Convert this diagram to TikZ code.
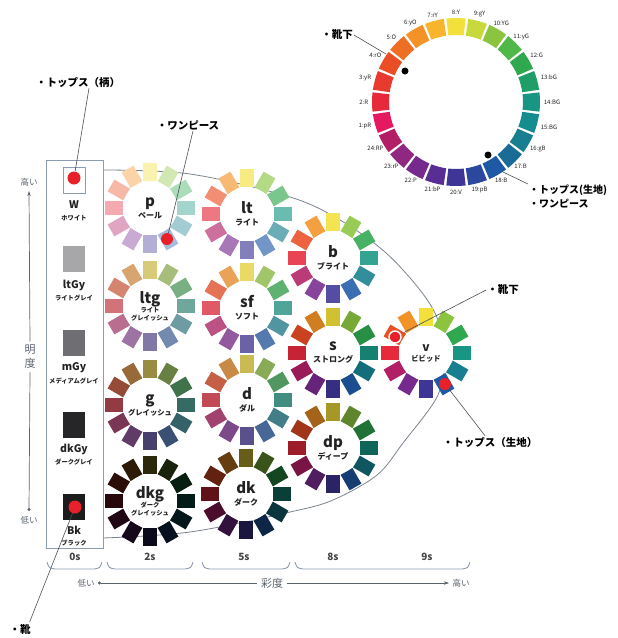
\documentclass[tikz,border=0pt]{standalone}
\usepackage{fontspec}
\setmainfont{Noto Sans CJK JP}
\usetikzlibrary{arrows.meta}

\definecolor{h1}{HTML}{E5195F}
\definecolor{h2}{HTML}{E62A3C}
\definecolor{h3}{HTML}{E83A2E}
\definecolor{h4}{HTML}{EB4E25}
\definecolor{h5}{HTML}{EE6F23}
\definecolor{h6}{HTML}{F39226}
\definecolor{h7}{HTML}{F7B52D}
\definecolor{h8}{HTML}{F3E03A}
\definecolor{h9}{HTML}{C8DA3B}
\definecolor{h10}{HTML}{8BC540}
\definecolor{h11}{HTML}{4FB848}
\definecolor{h12}{HTML}{2FA84F}
\definecolor{h13}{HTML}{1F9E68}
\definecolor{h14}{HTML}{189683}
\definecolor{h15}{HTML}{158D8E}
\definecolor{h16}{HTML}{177F8F}
\definecolor{h17}{HTML}{1A6C97}
\definecolor{h18}{HTML}{1F59A6}
\definecolor{h19}{HTML}{2B479E}
\definecolor{h20}{HTML}{3E3597}
\definecolor{h21}{HTML}{582E95}
\definecolor{h22}{HTML}{762A8E}
\definecolor{h23}{HTML}{902781}
\definecolor{h24}{HTML}{B21F66}
\definecolor{ltgbase}{RGB}{192,182,180}
\definecolor{sfbase}{RGB}{212,200,200}
\definecolor{gbase}{RGB}{78,72,72}
\definecolor{dbase}{RGB}{135,125,125}
\definecolor{frame}{HTML}{8C9CB0}
\definecolor{bnd}{HTML}{7A838E}
\definecolor{lead}{HTML}{4A4F55}
\definecolor{dotred}{HTML}{E8202A}
\definecolor{txt}{HTML}{222222}
\definecolor{axisc}{HTML}{5A626C}

\newcommand\tnm[1]{{\fontsize{15}{15}\selectfont\bfseries #1}}
\newcommand\tnv[1]{{\fontsize{12}{12}\selectfont\bfseries #1}}
\newcommand\tjp[1]{{\fontsize{8}{9}\selectfont\bfseries #1}}
\newcommand\tjg[1]{{\fontsize{7.3}{8}\selectfont\bfseries #1}}
\newcommand\tjs[1]{{\fontsize{6.3}{7}\selectfont\bfseries #1}}

\newcommand\tonewheel[5]{%
  \begin{scope}[shift={(#2,#3)}]
    \foreach \k in {2,4,...,24}{
      \pgfmathsetmacro\ang{210-15*\k}
      \fill[fill=h\k!#4, rotate=\ang] (27,-6.8) rectangle (45,6.8);
    }
  \end{scope}
  \node[wheelc] (#1) at (#2,#3) {#5};
}

\begin{document}
\begin{tikzpicture}[x=1pt,y=-1pt,
  wheelc/.style={circle, fill=white, minimum size=54pt, inner sep=0pt, align=center, text=txt, font=\fontsize{8}{12}\selectfont},
  swatch/.style={minimum width=22pt, minimum height=26pt, inner sep=0pt},
  swname/.style={font=\fontsize{10.5}{11}\selectfont\bfseries, text=txt, inner sep=0pt},
  swjp/.style={font=\fontsize{6.3}{7}\selectfont\bfseries, text=txt, inner sep=0pt},
  reddot/.style={circle, fill=dotred, minimum size=13pt, inner sep=0pt},
  ringdot/.style={circle, fill=black, minimum size=7pt, inner sep=0pt},
  ctext/.style={font=\fontsize{10.5}{14}\selectfont\bfseries, text=black, inner sep=1pt},
  leadline/.style={draw=lead, line width=0.6pt},
  huelab/.style={font=\fontsize{6}{6.5}\selectfont, text=txt, inner sep=0.6pt},
  collab/.style={font=\fontsize{10}{11}\selectfont\bfseries, text=txt!85},
  axlab/.style={font=\fontsize{8.5}{9}\selectfont, text=axisc},
  axline/.style={draw=axisc, line width=0.7pt},
  bracepath/.style={draw=frame, line width=0.9pt}
]
\useasboundingbox (0,0) rectangle (618,638);

% boundary of tone area
\draw[draw=bnd, line width=0.8pt] plot[smooth, tension=0.55] coordinates {(103,170) (190,174) (290,197) (340,220) (385,252) (420,290) (438,320) (444,355) (438,395) (403,443) (377,475) (333,500) (290,512) (190,532) (103,538)};

% gray scale column
\node[draw=frame, line width=1pt, minimum width=57pt, minimum height=388pt, inner sep=0pt] (graybox) at (74.5,354) {};
\node[swatch, fill=white, draw=frame, line width=0.8pt] (W) at (74,180) {};
\node[swatch, fill={rgb,255:red,167;green,167;blue,170}] (ltGy) at (74,259) {};
\node[swatch, fill={rgb,255:red,111;green,111;blue,115}] (mGy) at (74,343) {};
\node[swatch, fill={rgb,255:red,38;green,38;blue,40}] (dkGy) at (74,425) {};
\node[swatch, fill={rgb,255:red,28;green,28;blue,28}] (Bk) at (74,507) {};
\node[swname] (Wn) at (74,205) {W};
\node[swjp] (Wj) at (74,218) {ホワイト};
\node[swname] (ltGyn) at (74,285) {ltGy};
\node[swjp] (ltGyj) at (74,298) {ライトグレイ};
\node[swname] (mGyn) at (74,368) {mGy};
\node[swjp] (mGyj) at (74,381) {メディアムグレイ};
\node[swname] (dkGyn) at (74,449) {dkGy};
\node[swjp] (dkGyj) at (74,462) {ダークグレイ};
\node[swname] (Bkn) at (74,530) {Bk};
\node[swjp] (Bkj) at (74,543) {ブラック};

% tone wheels
\tonewheel{wp}{150}{208}{40!white}{\tnm{p}\\\tjp{ペール}}
\tonewheel{wlt}{247}{214}{64!white}{\tnm{lt}\\\tjp{ライト}}
\tonewheel{wb}{333}{258}{88!white}{\tnm{b}\\\tjp{ブライト}}
\tonewheel{wltg}{150}{306}{48!ltgbase}{\tnm{ltg}\\[-3pt]\tjs{ライト}\\[-4pt]\tjs{グレイッシュ}}
\tonewheel{wsf}{247}{308}{70!sfbase}{\tnm{sf}\\\tjp{ソフト}}
\tonewheel{ws}{333}{353}{86!black}{\tnm{s}\\\tjp{ストロング}}
\tonewheel{wv}{426}{353}{100!white}{\tnv{v}\\[-2pt]\tjg{ビビッド}}
\tonewheel{wg}{150}{405}{45!gbase}{\tnm{g}\\\tjg{グレイッシュ}}
\tonewheel{wd}{247}{400}{62!dbase}{\tnm{d}\\\tjp{ダル}}
\tonewheel{wdp}{333}{448}{68!black}{\tnm{dp}\\\tjp{ディープ}}
\tonewheel{wdkg}{150}{501}{18!black}{\tnm{dkg}\\[-3pt]\tjs{ダーク}\\[-4pt]\tjs{グレイッシュ}}
\tonewheel{wdk}{246}{494}{42!black}{\tnm{dk}\\\tjp{ダーク}}

% red dots
\node[reddot] (dotW) at (74,178) {};
\node[reddot] (dotBk) at (75,507) {};
\node[reddot, minimum size=12pt] (dotP) at (167,239) {};
\node[reddot, minimum size=12pt] (dotV18) at (445,384) {};
\node[reddot, minimum size=12pt, draw=white, line width=1.4pt] (dotV4) at (395,337) {};

% hue ring
\coordinate (hc) at (456,102);
\foreach \k/\lab in {1/1:pR,2/2:R,3/3:yR,4/4:rO,5/5:O,6/6:yO,7/7:rY,8/8:Y,9/9:gY,10/10:YG,11/11:yG,12/12:G,13/13:bG,14/14:BG,15/15:BG,16/16:gB,17/17:B,18/18:B,19/19:pB,20/20:V,21/21:bP,22/22:P,23/23:rP,24/24:RP}{
  \pgfmathsetmacro\ang{210-15*\k}
  \pgfmathsetmacro\anc{\ang+180}
  \begin{scope}[shift={(hc)}, rotate=\ang]
    \fill[h\k] (-6.6:84) arc[start angle=-6.6, end angle=6.6, radius=84] -- (6.6:67) arc[start angle=6.6, end angle=-6.6, radius=67] -- cycle;
    \node[huelab, anchor=\anc] (hl\k) at (87,0) {\lab};
  \end{scope}
}
\node[ringdot] (rd4) at (405,71) {};
\node[ringdot] (rd18) at (488,155) {};
\coordinate (ring4) at (386,54);
\coordinate (ring18) at (503,172);

% callouts
\node[ctext] (cW) at (78,82) {・トップス（柄）};
\draw[leadline] ([xshift=11pt]cW.south) -- (dotW);
\node[ctext] (cP) at (188,125) {・ワンピース};
\draw[leadline] ([xshift=5pt]cP.south) -- (dotP);
\node[ctext] (cRingSocks) at (337,35) {・靴下};
\draw[leadline] (cRingSocks.east) -- (ring4);
\node[ctext, anchor=north west, align=left, font=\fontsize{10}{14}\selectfont\bfseries] (cRingTops) at (528,184) {・トップス(生地)\\・ワンピース};
\draw[leadline] (ring18) -- (cRingTops.north west);
\node[ctext] (cVSocks) at (503,290) {・靴下};
\draw[leadline, shorten >=10pt] (cVSocks.west) -- (dotV4.center);
\node[ctext] (cVTops) at (490,442) {・トップス（生地）};
\draw[leadline] ([xshift=-5pt]cVTops.north) -- (dotV18);
\node[ctext] (cBk) at (20,630) {・靴};
\draw[leadline] ([xshift=-2pt, yshift=2pt]cBk.north east) -- (dotBk);

% column labels and braces
\node[collab] (s0) at (75,557) {0s};
\node[collab] (s2) at (150,557) {2s};
\node[collab] (s5) at (244,557) {5s};
\node[collab] (s8) at (333,557) {8s};
\node[collab] (s9) at (427,557) {9s};
\foreach \a/\b in {47/102, 107/193, 202/290, 295/470}{
  \draw[bracepath] (\a,562) .. controls (\a+2,568) .. (\a+8,569) -- (\b-8,569) .. controls (\b-2,568) .. (\b,562);
}

% saturation axis
\node[axlab] (loS) at (86,583) {低い};
\node[axlab, font=\fontsize{11}{12}\selectfont] (saido) at (272,583) {彩度};
\node[axlab] (hiS) at (461,583) {高い};
\draw[axline, {Circle[length=3pt]}-] (loS.east) -- (saido.west);
\draw[axline, -{Stealth[length=5pt,width=3.5pt]}] (saido.east) -- (hiS.west);

% lightness axis
\node[axlab, inner sep=5pt] (hiL) at (29,182) {高い};
\node[axlab, inner sep=5pt] (loL) at (29,520) {低い};
\node[axlab, align=center, font=\fontsize{11}{14}\selectfont] (meido) at (30,357) {明\\度};
\draw[axline, -{Stealth[length=5pt,width=3.5pt]}] (meido.north) -- (hiL.south);
\draw[axline, {Circle[length=3pt]}-] (loL.north) -- (meido.south);

\end{tikzpicture}
\end{document}
